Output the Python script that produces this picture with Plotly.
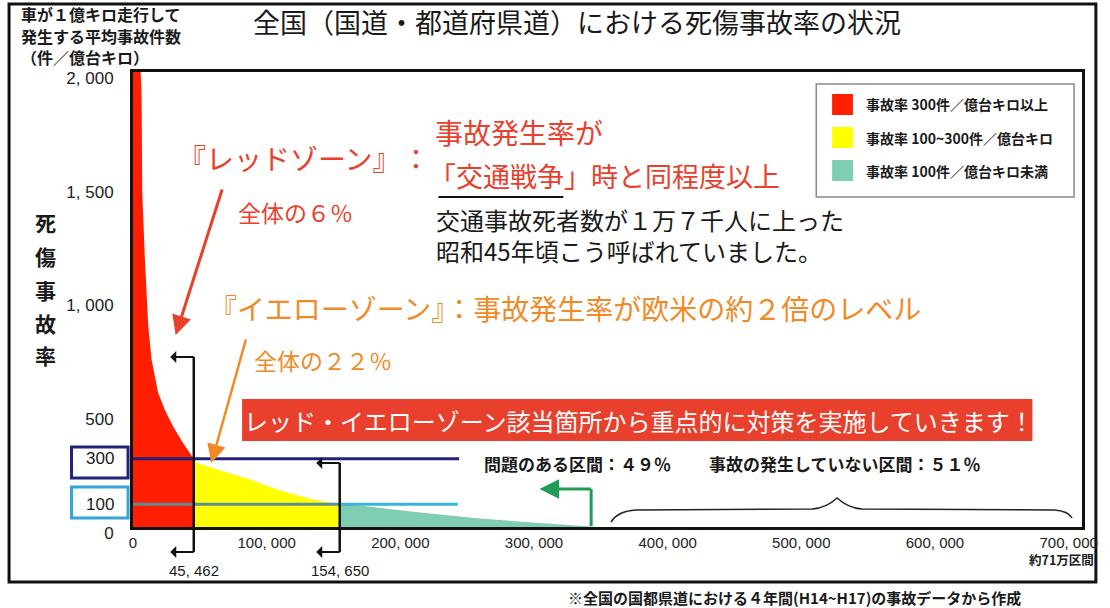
import plotly.graph_objects as go

# Road sections sorted by casualty-accident rate (cumulative section count on x)
cum_sections = [0, 5700, 6400, 6900, 8900, 11400, 13850, 18800, 23700, 29900, 37300,
                45462, 47200, 59600, 84300, 109000, 133800, 154650,
                166000, 208000, 257000, 307000, 331600, 348000]
accident_rate = [2000, 2000, 1915, 1474, 1179, 884, 737, 590, 517, 443, 370,
                 300, 284, 259, 215, 163, 122, 100,
                 97, 68, 38, 16, 7, 0]

red_limit = 45462       # sections with rate >= 300
yellow_limit = 154650   # sections with rate >= 100
total_sections = 710000

x_ticks = [0, 100000, 200000, 300000, 400000, 500000, 600000, 700000]
x_tick_text = ["0", "100, 000", "200, 000", "300, 000", "400, 000", "500, 000", "600, 000", "700, 000"]
y_ticks = [0, 500, 1000, 1500, 2000]
y_tick_text = ["0", "500", "1, 000", "1, 500", "2, 000"]

zone_names = ["事故率 300件／億台キロ以上", "事故率 100~300件／億台キロ", "事故率 100件／億台キロ未満"]
zone_colors = ["#ff1e00", "#ffff00", "#7fcdb2"]

W, H = 1110, 608
PL, PR, PT, PB = 133, 1090, 72, 527
JP = "Noto Sans CJK JP"
NUM = "Liberation Sans, Arial"


def fx(px):
    return (px - PL) / (PR - PL)


def fy(py):
    return (PB - py) / (PB - PT)


def segment(lo, hi):
    xs, ys = [], []
    for x, y in zip(cum_sections, accident_rate):
        if lo <= x <= hi:
            xs.append(x)
            ys.append(y)
    return xs, ys


fig = go.Figure()
bounds = [(0, red_limit), (red_limit, yellow_limit), (yellow_limit, total_sections)]
for (lo, hi), name, col in zip(bounds, zone_names, zone_colors):
    xs, ys = segment(lo, hi)
    fig.add_trace(go.Scatter(x=xs, y=ys, mode="lines", fill="tozeroy", fillcolor=col,
                             line=dict(width=0, color=col), name=name,
                             showlegend=False, hoverinfo="skip"))

shapes = []
annotations = []


def text(t, x, y, size, color="#1a1a1a", bold=False, xanchor="left", yanchor="middle",
         family=JP, xref="paper", yref="paper"):
    annotations.append(dict(text=f"<b>{t}</b>" if bold else t, x=x, y=y, xref=xref, yref=yref,
                            xanchor=xanchor, yanchor=yanchor, showarrow=False, align="left",
                            font=dict(size=size, color=color, family=family)))


def pline(x0, y0, x1, y1, color, width, xref="paper", yref="paper"):
    shapes.append(dict(type="line", x0=x0, y0=y0, x1=x1, y1=y1, xref=xref, yref=yref,
                       line=dict(color=color, width=width)))


# outer frame
shapes.append(dict(type="rect", xref="paper", yref="paper", x0=fx(8), y0=fy(582), x1=fx(1104), y1=fy(4),
                   line=dict(color="#111", width=3), layer="below"))

# title and axis caption
text("全国（国道・都道府県道）における死傷事故率の状況", fx(581), fy(22), 27, xanchor="center")
for line, yy in zip(["車が１億キロ走行して", "発生する平均事故件数", "（件／億台キロ）"], [14, 36, 57]):
    text(line, fx(18), fy(yy), 16, bold=True)
for ch, yy in zip("死傷事故率", [222, 256, 290, 323, 355]):
    text(ch, fx(45), fy(yy), 21, bold=True, xanchor="center")

# reference rate lines
pline(0, 300, 244000, 300, "#22227a", 3, "x", "y")
pline(0, 100, yellow_limit, 100, "#5b8e98", 3, "x", "y")
pline(yellow_limit, 100, 243000, 100, "#38b4e2", 3, "x", "y")

# boxed 300 / 100 labels
shapes.append(dict(type="rect", xref="paper", yref="paper", x0=fx(71), x1=fx(128), y0=fy(478), y1=fy(447),
                   line=dict(color="#22227a", width=3)))
shapes.append(dict(type="rect", xref="paper", yref="paper", x0=fx(71), x1=fx(128), y0=fy(518), y1=fy(487),
                   line=dict(color="#33a6d6", width=3)))
text("300", fx(100), 300, 17, xanchor="center", family=NUM, yref="y")
text("100", fx(100), 100, 17, xanchor="center", family=NUM, yref="y")

# red zone callout
RED = "#e8402c"
text("『レッドゾーン』", fx(176), fy(158), 28, RED)
text("：", fx(402), fy(158), 28, RED)
text("事故発生率が", fx(436), fy(132), 28, RED)
text("「交通戦争」時と同程度以上", fx(429), fy(175), 27, RED)
pline(fx(441), fy(197), fx(567), fy(197), "#111", 2)
text("交通事故死者数が１万７千人に上った<br>昭和45年頃こう呼ばれていました。", fx(437), fy(235), 24)
text("全体の６％", fx(237), fy(212), 23, RED)
annotations.append(dict(x=fx(176), y=fy(335), xref="paper", yref="paper", ax=47, ay=-147,
                        text="", showarrow=True, arrowhead=2, arrowsize=1.3, arrowwidth=3,
                        arrowcolor=RED))

# yellow zone callout
ORANGE = "#f08a26"
text("『イエローゾーン』：事故発生率が欧米の約２倍のレベル", fx(208), fy(308), 28, ORANGE)
text("全体の２２％", fx(253), fy(360), 23, ORANGE)
annotations.append(dict(x=fx(212), y=fy(463), xref="paper", yref="paper", ax=35, ay=-125,
                        text="", showarrow=True, arrowhead=2, arrowsize=1.5, arrowwidth=2.5,
                        arrowcolor=ORANGE))

# banner
shapes.append(dict(type="rect", xref="paper", yref="paper", x0=fx(243), x1=fx(1040), y0=fy(441), y1=fy(399),
                   fillcolor="#e8402c", line=dict(width=0)))
text("レッド・イエローゾーン該当箇所から重点的に対策を実施していきます！", fx(643), fy(420), 24, "#ffffff",
     xanchor="center")

# share of sections
text("問題のある区間：４９％", fx(485), fy(463), 17, bold=True)
text("事故の発生していない区間：５１％", fx(712), fy(463), 17, bold=True)

GREEN = "#1f9d55"
pline(fx(595), fy(526), fx(595), fy(489), GREEN, 3)
annotations.append(dict(x=fx(543), y=fy(489), xref="paper", yref="paper", ax=53, ay=0,
                        text="", showarrow=True, arrowhead=2, arrowsize=1.3, arrowwidth=3,
                        arrowcolor=GREEN))

# brace over sections without accidents
pts = [(615, 522), (622, 511), (640, 510), (818, 509), (832, 508), (843, 498), (854, 508),
       (868, 509), (1062, 510), (1076, 511), (1080, 518)]
path = f"M {fx(pts[0][0])},{fy(pts[0][1])}"
path += f" Q {fx(pts[1][0])},{fy(pts[1][1])} {fx(pts[2][0])},{fy(pts[2][1])}"
path += f" L {fx(pts[3][0])},{fy(pts[3][1])}"
path += f" Q {fx(pts[4][0])},{fy(pts[4][1])} {fx(pts[5][0])},{fy(pts[5][1])}"
path += f" Q {fx(pts[6][0])},{fy(pts[6][1])} {fx(pts[7][0])},{fy(pts[7][1])}"
path += f" L {fx(pts[8][0])},{fy(pts[8][1])}"
path += f" Q {fx(pts[9][0])},{fy(pts[9][1])} {fx(pts[10][0])},{fy(pts[10][1])}"
shapes.append(dict(type="path", path=path, xref="paper", yref="paper", line=dict(color="#222", width=1.5)))

# zone boundary brackets
for xb, top, label in [(red_limit, 357, "45, 462"), (yellow_limit, 463, "154, 650")]:
    shapes.append(dict(type="line", xref="x", yref="paper", x0=xb, x1=xb, y0=fy(top), y1=fy(552),
                       line=dict(color="#111", width=2.5)))
    for yy in (top, 552):
        annotations.append(dict(x=xb, y=fy(yy), xref="x", yref="paper", ax=-25, ay=0, text="",
                                showarrow=True, arrowside="start", arrowhead=2, arrowsize=1,
                                arrowwidth=2, arrowcolor="#111", standoff=0, startstandoff=0))
    text(label, xb, fy(570), 15, xanchor="center", family=NUM, xref="x")

text("約71万区間", fx(1104), fy(559), 12.5, bold=True, xanchor="right")
text("※全国の国都県道における４年間(H14~H17)の事故データから作成", fx(570), fy(597), 15, bold=True)

# legend
shapes.append(dict(type="rect", xref="paper", yref="paper", x0=fx(822), x1=fx(1082), y0=fy(197), y1=fy(84),
                   line=dict(color="#8a8a8a", width=1.5), fillcolor="#ffffff"))
for (name, col), (y0, y1) in zip(zip(zone_names, zone_colors), [(94, 115), (127, 148), (160, 181)]):
    shapes.append(dict(type="rect", xref="paper", yref="paper", x0=fx(838), x1=fx(859), y0=fy(y1), y1=fy(y0),
                       fillcolor=col, line=dict(width=0)))
    text(name, fx(870), fy((y0 + y1) / 2), 14, bold=True)

fig.update_layout(
    width=W, height=H, autosize=False,
    margin=dict(l=PL, r=W - PR, t=PT, b=H - PB, pad=0),
    paper_bgcolor="#ffffff", plot_bgcolor="#ffffff",
    showlegend=False, shapes=shapes, annotations=annotations,
    font=dict(family=JP, color="#1a1a1a"),
    xaxis=dict(range=[0, total_sections], tickvals=x_ticks, ticktext=x_tick_text,
               showgrid=False, zeroline=False, showline=True, mirror=True,
               linecolor="#111", linewidth=3, ticks="", ticklabelstandoff=0,
               tickfont=dict(family=NUM, size=15, color="#222")),
    yaxis=dict(range=[0, 2000], tickvals=y_ticks, ticktext=y_tick_text,
               showgrid=False, zeroline=False, showline=True, mirror=True,
               linecolor="#111", linewidth=3, ticks="", ticklabelstandoff=13, ticklabelshift=6,
               tickfont=dict(family=NUM, size=17, color="#222")),
)

fig.write_html("out.html")
